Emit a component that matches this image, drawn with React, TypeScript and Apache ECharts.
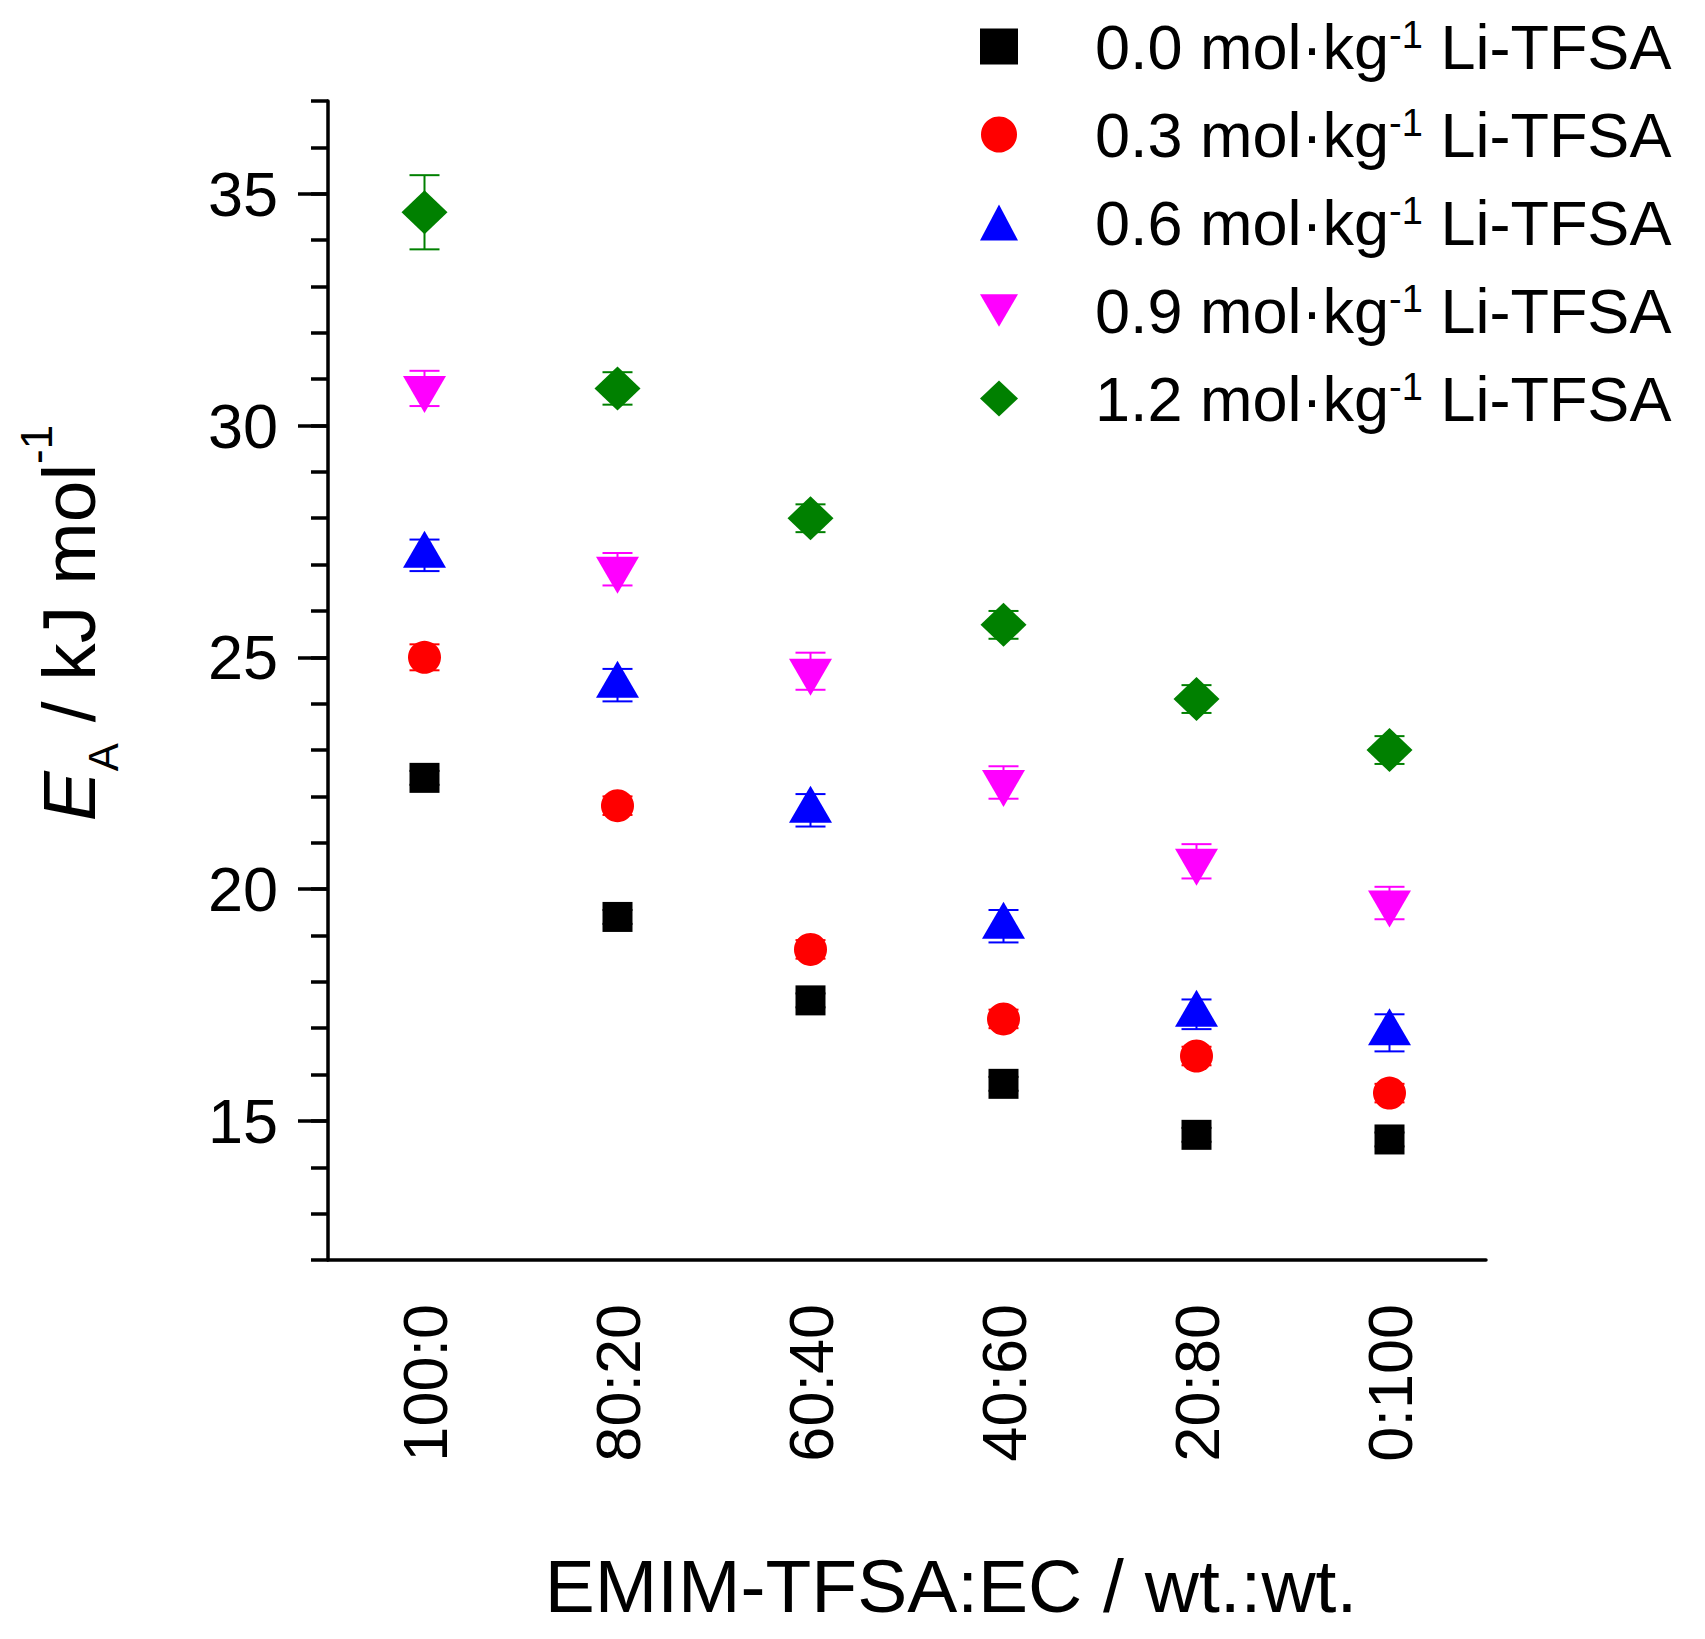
import React, { useEffect, useRef } from 'react';
import * as echarts from 'echarts';

const FONT = '"Liberation Sans", Arial, Helvetica, sans-serif';

// EMIM-TFSA:EC weight ratios
const ratios = ['100:0', '80:20', '60:40', '40:60', '20:80', '0:100'];
const concentrations = ['0.0', '0.3', '0.6', '0.9', '1.2'];

// activation energies, kJ/mol
const ea00 = [22.4, 19.4, 17.6, 15.8, 14.7, 14.6];
const ea03 = [25.0, 21.8, 18.7, 17.2, 16.4, 15.6];
const ea06 = [27.2, 24.4, 21.7, 19.2, 17.3, 16.9];
const ea09 = [30.8, 26.9, 24.7, 22.3, 20.6, 19.7];
const ea12 = [34.6, 30.8, 28.0, 25.7, 24.1, 23.0];

// error bars (half width)
const err00 = [0.15, 0.15, 0.15, 0.15, 0.15, 0.15];
const err03 = [0.28, 0.2, 0.2, 0.2, 0.2, 0.2];
const err06 = [0.34, 0.35, 0.35, 0.35, 0.32, 0.4];
const err09 = [0.38, 0.35, 0.4, 0.35, 0.37, 0.35];
const err12 = [0.8, 0.35, 0.3, 0.3, 0.3, 0.3];

const yMajorTicks = [15, 20, 25, 30, 35];
const yMinorTicks = [12, 13, 14, 15, 16, 17, 18, 19, 20, 21, 22, 23, 24, 25, 26, 27, 28, 29, 30, 31, 32, 33, 34, 35, 36, 37];

const DOWN_TRIANGLE = 'path://M0,0L2,0L1,1.72Z';

const groups = [
  { values: ea00, errors: err00, color: '#000000', symbol: 'rect', size: 30, offset: [0, 0] },
  { values: ea03, errors: err03, color: '#ff0000', symbol: 'circle', size: 33, offset: [0, 0] },
  { values: ea06, errors: err06, color: '#0000ff', symbol: 'triangle', size: [43, 37], offset: [0, -6] },
  { values: ea09, errors: err09, color: '#ff00ff', symbol: DOWN_TRIANGLE, size: [43, 37], offset: [0, 6] },
  { values: ea12, errors: err12, color: '#008000', symbol: 'diamond', size: [46, 44], offset: [0, 0] },
];

const seriesName = (c: string) => `${c} mol·kg-1 Li-TFSA`;

const App: React.FC = () => {
  const chartRef = useRef<HTMLDivElement>(null);

  useEffect(() => {
    document.body.style.margin = '0';
    const chart = echarts.init(chartRef.current, null, { renderer: 'svg' });

    const scatter = groups.map((g, k) => ({
      name: seriesName(concentrations[k]),
      type: 'scatter',
      data: g.values,
      symbol: g.symbol,
      symbolSize: g.size,
      symbolOffset: g.offset,
      itemStyle: { color: g.color, opacity: 1 },
      z: 3,
    }));

    const errorBars = groups.map((g, k) => ({
      name: seriesName(concentrations[k]) + ' error',
      type: 'custom',
      data: g.values.map((v, i) => [i, v, g.errors[i]]),
      encode: { x: 0, y: 1 },
      z: 2,
      renderItem: (params: any, api: any) => {
        const i = api.value(0);
        const v = api.value(1);
        const e = api.value(2);
        const hi = api.coord([i, v + e]);
        const lo = api.coord([i, v - e]);
        const cx = hi[0];
        const st = { stroke: g.color, lineWidth: 2 };
        return {
          type: 'group',
          children: [
            { type: 'line', shape: { x1: cx, y1: hi[1], x2: cx, y2: lo[1] }, style: st },
            { type: 'line', shape: { x1: cx - 15, y1: hi[1], x2: cx + 15, y2: hi[1] }, style: st },
            { type: 'line', shape: { x1: cx - 15, y1: lo[1], x2: cx + 15, y2: lo[1] }, style: st },
          ],
        };
      },
    }));

    const axisLineStyle = { color: '#000', width: 3.5 };

    const option = {
      animation: false,
      backgroundColor: '#fff',
      grid: { left: 328, top: 101, width: 1158, height: 1159, containLabel: false },
      legend: {
        data: concentrations.map(seriesName),
        orient: 'vertical',
        left: 980,
        top: 15,
        padding: 0,
        itemWidth: 38,
        itemHeight: 36,
        itemGap: 25,
        selectedMode: false,
        formatter: (name: string) => `{t|${name.split(' ')[0]} mol·kg}{sup|-1}{t| Li-TFSA}`,
        textStyle: {
          padding: [0, 0, 0, 72],
          lineHeight: 62,
          rich: {
            t: { fontSize: 63, fontFamily: FONT, color: '#000', lineHeight: 62 },
            sup: { fontSize: 38, fontFamily: FONT, color: '#000', lineHeight: 26, verticalAlign: 'top' },
          },
        },
      },
      xAxis: [
        {
          type: 'category',
          data: ratios,
          position: 'bottom',
          boundaryGap: true,
          axisLine: { lineStyle: axisLineStyle },
          axisTick: { alignWithLabel: true, interval: 0, length: 30, lineStyle: axisLineStyle },
          axisLabel: {
            interval: 0,
            rotate: 90,
            margin: 44,
            fontSize: 63,
            fontFamily: FONT,
            color: '#000',
          },
          splitLine: { show: false },
        },
        {
          type: 'category',
          data: ratios,
          position: 'bottom',
          boundaryGap: true,
          axisLine: { show: false },
          axisTick: { interval: 0, length: 17, lineStyle: axisLineStyle },
          axisLabel: { show: false },
          splitLine: { show: false },
        },
      ],
      yAxis: [
        {
          type: 'value',
          min: 12,
          max: 37,
          position: 'left',
          axisLine: { show: true, lineStyle: axisLineStyle },
          axisTick: { show: true, customValues: yMajorTicks, length: 30, lineStyle: axisLineStyle },
          axisLabel: {
            customValues: yMajorTicks,
            margin: 50,
            fontSize: 63,
            fontFamily: FONT,
            color: '#000',
          },
          splitLine: { show: false },
        },
        {
          type: 'value',
          min: 12,
          max: 37,
          position: 'left',
          axisLine: { show: false },
          axisTick: { show: true, customValues: yMinorTicks, length: 17, lineStyle: axisLineStyle },
          axisLabel: { show: false },
          splitLine: { show: false },
        },
      ],
      graphic: [
        {
          type: 'text',
          x: 69,
          y: 623,
          rotation: Math.PI / 2,
          style: {
            text: '{i|E}{sub|A}{n| / kJ mol}{sup|-1}',
            align: 'center',
            verticalAlign: 'middle',
            fill: '#000',
            rich: {
              i: { fontSize: 75, fontStyle: 'italic', fontFamily: FONT, lineHeight: 110 },
              sub: { fontSize: 42, fontFamily: FONT, lineHeight: 30, verticalAlign: 'bottom' },
              n: { fontSize: 75, fontFamily: FONT, lineHeight: 110 },
              sup: { fontSize: 44, fontFamily: FONT, lineHeight: 55, verticalAlign: 'top' },
            },
          },
        },
        {
          type: 'text',
          x: 951,
          y: 1586,
          style: {
            text: 'EMIM-TFSA:EC / wt.:wt.',
            align: 'center',
            verticalAlign: 'middle',
            fontSize: 75,
            fontFamily: FONT,
            fill: '#000',
          },
        },
      ],
      series: [...errorBars, ...scatter],
    };

    chart.setOption(option as any);

    return () => {
      chart.dispose();
    };
  }, []);

  return <div ref={chartRef} style={{ width: '1705px', height: '1639px' }} />;
};

export default App;
